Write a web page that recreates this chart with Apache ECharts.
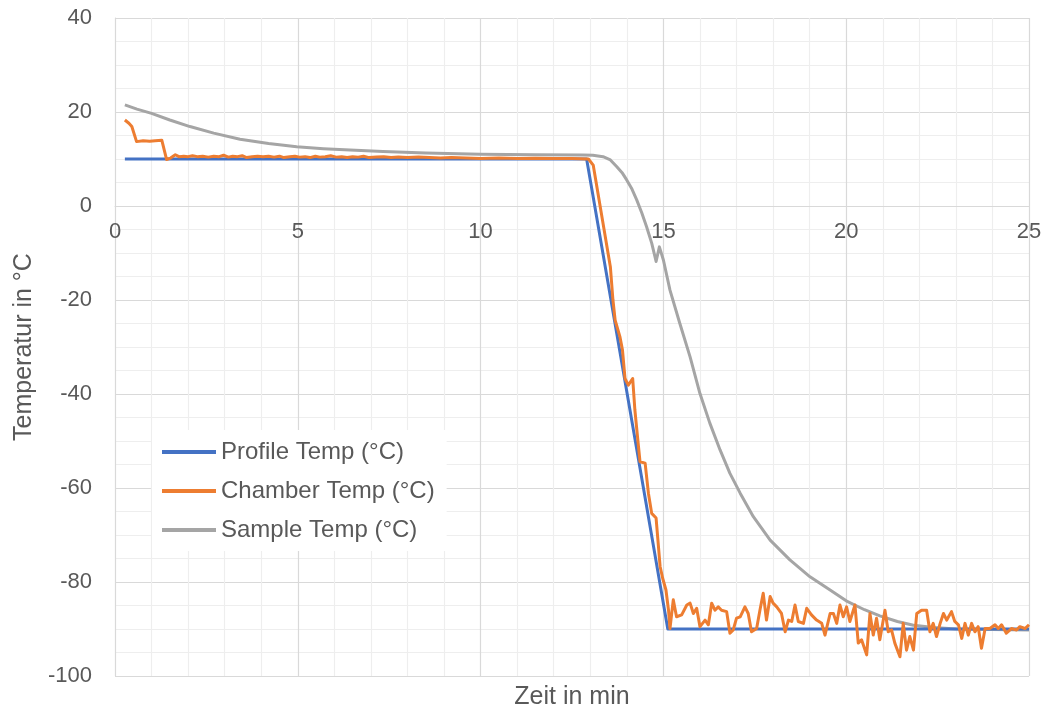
<!DOCTYPE html>
<html>
<head>
<meta charset="utf-8">
<script src="https://cdn.jsdelivr.net/npm/echarts@6/dist/echarts.min.js"></script>
<style>
  html, body { margin: 0; padding: 0; background: #fff; }
  #chart { width: 1048px; height: 709px; }
</style>
</head>
<body>
<div id="chart"></div>
<script>
// Temperature run: profile set point, chamber air and sample core (°C) over time (min)
const seriesNames = ['Profile Temp (°C)', 'Chamber Temp (°C)', 'Sample Temp (°C)'];

const profileTime = [0.27, 12.9, 15.12, 25];
const profileTemp = [10, 10, -90, -90];

const chamberTime = [
  0.27, 0.38, 0.46, 0.59, 0.77, 0.95, 1.1, 1.28, 1.41, 1.52, 1.65, 1.75, 1.88, 2.0, 2.12, 2.25,
  2.4, 2.55, 2.7, 2.85, 2.97, 3.1, 3.22, 3.35, 3.48, 3.6, 3.75, 3.9, 4.05, 4.2, 4.35, 4.5,
  4.62, 4.78, 4.92, 5.05, 5.2, 5.33, 5.48, 5.6, 5.75, 5.9, 6.05, 6.2, 6.35, 6.5, 6.65, 6.8,
  6.95, 7.15, 7.35, 7.55, 7.75, 8.0, 8.3, 8.6, 8.9, 9.2, 9.6, 10.0, 10.5, 11.0, 11.5, 12.0,
  12.5, 12.95, 13.0, 13.08, 13.55, 13.62, 13.68, 13.81, 13.88, 13.95, 14.04, 14.16, 14.22, 14.31,
  14.36, 14.5, 14.59, 14.68, 14.8, 14.91, 14.98, 15.07, 15.14, 15.18, 15.27, 15.36, 15.5, 15.64,
  15.73, 15.82, 15.91, 16.0, 16.14, 16.23, 16.32, 16.41, 16.5, 16.59, 16.73, 16.82, 16.91, 17.0,
  17.1, 17.23, 17.32, 17.41, 17.55, 17.64, 17.73, 17.82, 17.92, 18.0, 18.1, 18.23, 18.33, 18.42,
  18.51, 18.6, 18.69, 18.83, 18.92, 19.05, 19.19, 19.33, 19.42, 19.56, 19.65, 19.74, 19.83, 19.92,
  20.01, 20.1, 20.24, 20.33, 20.42, 20.56, 20.65, 20.74, 20.83, 20.92, 21.06, 21.15, 21.24, 21.33,
  21.47, 21.56, 21.65, 21.74, 21.84, 21.93, 22.06, 22.2, 22.29, 22.38, 22.47, 22.57, 22.66, 22.75,
  22.88, 22.97, 23.07, 23.16, 23.25, 23.34, 23.43, 23.52, 23.61, 23.7, 23.8, 23.93, 24.07, 24.16,
  24.25, 24.38, 24.52, 24.66, 24.75, 24.89, 25.0
];
const chamberTemp = [
  18.3, 17.6, 16.9, 13.7, 13.9, 13.8, 13.9, 14.0, 9.9, 10.2, 10.9, 10.5, 10.6, 10.5, 10.7, 10.5,
  10.6, 10.4, 10.6, 10.5, 10.8, 10.4, 10.6, 10.5, 10.7, 10.3, 10.5, 10.6, 10.5, 10.6, 10.4, 10.6,
  10.3, 10.5, 10.6, 10.4, 10.5, 10.3, 10.6, 10.4, 10.5, 10.7, 10.4, 10.5, 10.3, 10.5, 10.4, 10.6,
  10.3, 10.4, 10.5, 10.3, 10.4, 10.3, 10.4, 10.3, 10.2, 10.3, 10.2, 10.1, 10.2, 10.1, 10.15, 10.1,
  10.1, 10.0, 9.8, 8.7, -13.0, -20.0, -24.3, -27.8, -30.6, -36.7, -38.1, -36.7, -43.4, -50.5,
  -54.4, -54.7, -61.1, -65.4, -66.4, -76.7, -79.2, -81.7, -86.0, -89.9, -83.8, -87.4, -87.0, -84.9,
  -84.5, -86.7, -85.6, -89.5, -88.1, -89.1, -84.5, -86.0, -85.3, -86.0, -86.3, -90.9, -90.2, -87.7,
  -87.4, -85.3, -86.7, -90.6, -89.9, -86.0, -82.4, -88.1, -83.1, -84.5, -85.3, -86.7, -90.6, -88.1,
  -88.4, -84.9, -88.4, -88.8, -85.6, -87.0, -88.1, -88.8, -91.3, -86.7, -86.7, -88.8, -84.9, -87.4,
  -85.3, -88.4, -84.9, -93.0, -92.3, -95.5, -86.7, -91.3, -87.7, -92.3, -86.0, -90.6, -90.2, -93.0,
  -95.9, -88.8, -94.5, -91.6, -94.5, -86.7, -86.0, -86.0, -90.6, -88.8, -91.6, -88.8, -86.7, -88.1,
  -86.3, -88.4, -89.1, -92.0, -88.8, -91.3, -88.8, -90.6, -89.5, -94.1, -89.9, -89.9, -89.1, -89.9,
  -89.1, -90.9, -89.9, -90.2, -89.5, -89.9, -89.1
];

const sampleTime = [
  0.27, 0.6, 1.0, 1.5, 2.05, 2.7, 3.42, 4.2, 4.97, 5.7, 6.43, 7.33, 8.5, 10.0, 11.5, 12.8,
  13.07, 13.35, 13.55, 13.72, 13.87, 14.0, 14.14, 14.27, 14.41, 14.54, 14.68, 14.8, 14.89, 15.0,
  15.18, 15.45, 15.73, 16.0, 16.27, 16.55, 16.82, 17.1, 17.46, 17.92, 18.46, 19.01, 19.56, 20.0,
  20.5, 20.92, 21.4, 21.84, 22.4, 23.0, 24.0, 25.0
];
const sampleTemp = [
  21.5, 20.6, 19.7, 18.3, 16.9, 15.5, 14.2, 13.3, 12.6, 12.2, 11.9, 11.6, 11.3, 11.0, 10.9, 10.85,
  10.8, 10.5, 9.8, 8.4, 7.1, 5.5, 3.6, 1.3, -1.5, -4.4, -7.9, -11.8, -8.7, -11.5,
  -17.9, -25.0, -32.1, -39.9, -46.2, -51.9, -56.9, -61.1, -66.1, -71.1, -75.3, -78.9, -81.7, -84.0,
  -85.9, -87.2, -88.4, -89.2, -89.7, -90.0, -90.1, -90.2
];

const xTicks = { min: 0, max: 25, step: 5 };
const yTicks = { min: -100, max: 40, step: 20 };

const colors = ['#4472C4', '#ED7D31', '#A5A5A5'];
const textColor = '#595959';
const font = 'Liberation Sans, Arial, sans-serif';

function pairs(t, v) { return t.map((x, i) => [x, v[i]]); }

const chart = echarts.init(document.getElementById('chart'), null, { renderer: 'canvas' });

// grey sample curve sits below, chamber curve on top
const zOrder = [3, 4, 2];
const lineSeries = [
  [profileTime, profileTemp],
  [chamberTime, chamberTemp],
  [sampleTime, sampleTemp]
].map((d, i) => ({
  name: seriesNames[i],
  type: 'line',
  data: pairs(d[0], d[1]),
  showSymbol: false,
  symbol: 'none',
  lineStyle: { color: colors[i], width: 3, join: 'round' },
  itemStyle: { color: colors[i] },
  z: zOrder[i]
}));

chart.setOption({
  animation: false,
  backgroundColor: '#ffffff',
  color: colors,
  grid: { left: 115, right: 19, top: 18, bottom: 33, containLabel: false, outerBoundsMode: 'none' },
  legend: {
    data: seriesNames,
    orient: 'vertical',
    left: 152,
    top: 430,
    backgroundColor: '#ffffff',
    padding: [10, 12, 9, 10],
    itemWidth: 54,
    itemHeight: 4,
    itemGap: 15,
    icon: 'rect',
    textStyle: { color: textColor, fontSize: 24, fontFamily: font }
  },
  xAxis: {
    type: 'value',
    min: xTicks.min,
    max: xTicks.max,
    interval: xTicks.step,
    offset: 0,
    axisLine: { show: true, onZero: false, lineStyle: { color: '#d9d9d9', width: 1 } },
    axisTick: { show: false },
    axisLabel: { color: textColor, fontSize: 22, fontFamily: font, margin: 15 },
    splitLine: { show: true, lineStyle: { color: '#d9d9d9', width: 1.2 } },
    minorTick: { show: false, splitNumber: 5 },
    minorSplitLine: { show: true, lineStyle: { color: '#eeeeee', width: 1.2 } }
  },
  yAxis: {
    type: 'value',
    min: yTicks.min,
    max: yTicks.max,
    interval: yTicks.step,
    name: 'Temperatur in °C',
    nameLocation: 'middle',
    nameGap: 78,
    nameTextStyle: { color: textColor, fontSize: 25, fontFamily: font },
    axisLine: { show: true, onZero: false, lineStyle: { color: '#d9d9d9', width: 1 } },
    axisTick: { show: false },
    axisLabel: { color: textColor, fontSize: 22, fontFamily: font, margin: 23 },
    splitLine: { show: true, lineStyle: { color: '#d9d9d9', width: 1.2 } },
    minorTick: { show: false, splitNumber: 4 },
    minorSplitLine: { show: true, lineStyle: { color: '#eeeeee', width: 1.2 } }
  },
  graphic: [{
    type: 'text',
    x: 572,
    y: 697,
    style: {
      text: 'Zeit in min',
      fill: textColor,
      font: '25px ' + font,
      textAlign: 'center',
      textVerticalAlign: 'middle'
    }
  }],
  series: lineSeries
});

// The time axis crosses the temperature axis at 0 °C: shift it up from the
// bottom edge by the distance the y scale gives between its minimum and zero.
const yZero = chart.convertToPixel({ yAxisIndex: 0 }, 0);
const yBottom = chart.convertToPixel({ yAxisIndex: 0 }, yTicks.min);
chart.setOption({ xAxis: { offset: -(yBottom - yZero) } });
</script>
</body>
</html>
